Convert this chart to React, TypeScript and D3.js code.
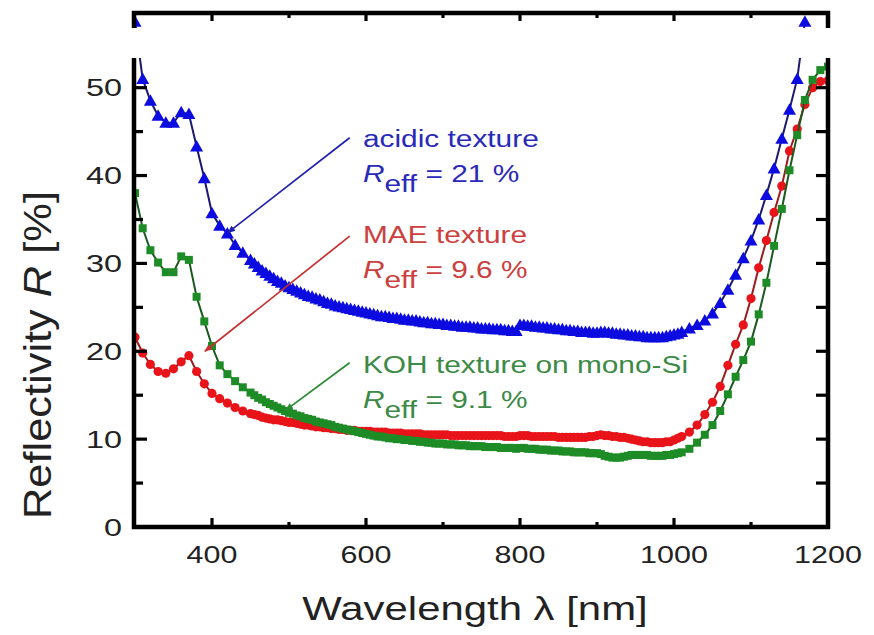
import React from "react";
import * as d3 from "d3";

// ---------- data ----------
const WL_LEFT = [300, 310, 320, 330, 340, 350, 360, 370, 380, 390, 400, 410, 420, 430, 440, 450];
const WL_MID = [
  455, 460, 465, 470, 475, 480, 485, 490, 495, 500,
  505, 510, 515, 520, 525, 530, 535, 540, 545, 550,
  555, 560, 565, 570, 575, 580, 585, 590, 595, 600,
  605, 610, 615, 620, 625, 630, 635, 640, 645, 650,
  655, 660, 665, 670, 675, 680, 685, 690, 695, 700,
  705, 710, 715, 720, 725, 730, 735, 740, 745, 750,
  755, 760, 765, 770, 775, 780, 785, 790, 795, 800,
  805, 810, 815, 820, 825, 830, 835, 840, 845, 850,
  855, 860, 865, 870, 875, 880, 885, 890, 895, 900,
  905, 910, 915, 920, 925, 930, 935, 940, 945, 950,
  955, 960, 965, 970, 975, 980, 985, 990, 995, 1000,
  1005, 1010,
];
const WL_RIGHT = [1020, 1030, 1040, 1050, 1060, 1070, 1080, 1090, 1100, 1110, 1120, 1130, 1140, 1150, 1160, 1170, 1180, 1190, 1200];

const ACIDIC_LEFT = [57.5, 51.0, 48.5, 46.8, 46.0, 46.0, 47.2, 47.0, 43.3, 39.7, 35.7, 34.3, 33.4, 32.1, 31.2, 30.4];
const ACIDIC_MID = [
  30.0, 29.6, 29.2, 28.9, 28.6, 28.3, 28.0, 27.8, 27.5, 27.3,
  27.1, 26.9, 26.7, 26.5, 26.3, 26.2, 26.0, 25.9, 25.7, 25.5,
  25.4, 25.2, 25.1, 25.0, 24.9, 24.8, 24.7, 24.6, 24.5, 24.4,
  24.3, 24.2, 24.1, 24.0, 24.0, 23.9, 23.8, 23.8, 23.7, 23.6,
  23.6, 23.5, 23.5, 23.4, 23.3, 23.3, 23.2, 23.2, 23.1, 23.1,
  23.0, 23.0, 22.9, 22.9, 22.8, 22.8, 22.8, 22.7, 22.7, 22.6,
  22.6, 22.6, 22.5, 22.5, 22.5, 22.4, 22.4, 22.3, 22.3, 23.0,
  23.0, 22.9, 22.9, 22.8, 22.8, 22.7, 22.7, 22.6, 22.6, 22.5,
  22.5, 22.4, 22.4, 22.3, 22.3, 22.2, 22.2, 22.2, 22.1, 22.1,
  22.2, 22.2, 22.1, 22.1, 22.0, 22.0, 21.9, 21.9, 21.8, 21.8,
  21.7, 21.7, 21.6, 21.6, 21.6, 21.6, 21.6, 21.7, 21.8, 21.9,
  22.0, 22.2,
];
const ACIDIC_RIGHT = [22.6, 23.0, 23.5, 24.3, 25.5, 27.0, 28.7, 30.6, 32.6, 35.0, 37.8, 40.8, 44.2, 47.5, 51.0, 57.5];

const MAE_LEFT = [21.6, 19.8, 18.5, 17.7, 17.5, 18.0, 18.8, 19.5, 17.7, 16.3, 15.2, 14.6, 14.1, 13.6, 13.2, 12.9];
const MAE_MID = [
  12.8, 12.7, 12.5, 12.4, 12.3, 12.2, 12.2, 12.1, 12.0, 11.9,
  11.9, 11.8, 11.7, 11.6, 11.6, 11.5, 11.4, 11.4, 11.3, 11.3,
  11.2, 11.2, 11.1, 11.1, 11.0, 11.0, 11.0, 10.9, 10.9, 10.9,
  10.9, 10.8, 10.8, 10.8, 10.8, 10.7, 10.7, 10.7, 10.7, 10.6,
  10.6, 10.6, 10.6, 10.6, 10.5, 10.5, 10.5, 10.5, 10.5, 10.5,
  10.5, 10.4, 10.4, 10.4, 10.4, 10.4, 10.4, 10.4, 10.4, 10.4,
  10.4, 10.4, 10.4, 10.4, 10.4, 10.3, 10.3, 10.3, 10.3, 10.4,
  10.4, 10.4, 10.3, 10.3, 10.3, 10.3, 10.3, 10.3, 10.3, 10.2,
  10.2, 10.2, 10.2, 10.2, 10.2, 10.2, 10.2, 10.3, 10.3, 10.4,
  10.5, 10.4, 10.4, 10.3, 10.3, 10.2, 10.2, 10.1, 10.0, 9.9,
  9.8, 9.7, 9.7, 9.6, 9.6, 9.6, 9.6, 9.7, 9.7, 9.9,
  10.1, 10.3,
];
const MAE_RIGHT = [10.8, 11.6, 12.8, 14.2, 16.0, 18.4, 20.8, 23.0, 26.0, 29.5, 32.6, 35.8, 38.8, 42.8, 45.3, 48.1, 50.0, 50.7, 50.8];

const KOH_LEFT = [38.0, 34.0, 31.5, 30.1, 29.0, 29.0, 30.8, 30.4, 26.2, 23.4, 20.6, 18.4, 17.4, 16.6, 15.9, 15.3];
const KOH_MID = [
  15.0, 14.7, 14.5, 14.2, 14.0, 13.8, 13.6, 13.4, 13.2, 13.0,
  12.9, 12.7, 12.6, 12.4, 12.3, 12.2, 12.0, 11.9, 11.8, 11.7,
  11.6, 11.4, 11.3, 11.2, 11.1, 11.0, 10.9, 10.8, 10.7, 10.6,
  10.5, 10.4, 10.3, 10.3, 10.2, 10.1, 10.1, 10.0, 10.0, 9.9,
  9.9, 9.8, 9.8, 9.7, 9.7, 9.6, 9.6, 9.5, 9.5, 9.5,
  9.4, 9.4, 9.4, 9.3, 9.3, 9.3, 9.2, 9.2, 9.2, 9.2,
  9.1, 9.1, 9.1, 9.1, 9.0, 9.0, 9.0, 9.0, 8.9, 9.0,
  9.0, 8.9, 8.9, 8.9, 8.8, 8.8, 8.8, 8.7, 8.7, 8.7,
  8.6, 8.6, 8.6, 8.5, 8.5, 8.5, 8.5, 8.4, 8.4, 8.4,
  8.3, 8.1, 8.0, 7.9, 7.9, 7.9, 8.0, 8.1, 8.2, 8.2,
  8.2, 8.2, 8.2, 8.1, 8.1, 8.1, 8.1, 8.2, 8.2, 8.3,
  8.4, 8.5,
];
const KOH_RIGHT = [8.9, 9.6, 10.5, 11.6, 13.2, 15.1, 17.1, 19.0, 21.1, 24.2, 27.8, 32.0, 36.2, 40.6, 44.6, 48.6, 50.9, 52.0, 52.4];

const X_TICK_LABELS = [400, 600, 800, 1000, 1200];
const X_MINOR_TICKS = [500, 700, 900, 1100];
const Y_TICK_LABELS = [0, 10, 20, 30, 40, 50];
const Y_MINOR_TICKS = [5, 15, 25, 35, 45, 55];

const SERIES_NAMES = ["acidic texture", "MAE texture", "KOH texture on mono-Si"];
const REFF_VALUES = ["21 %", "9.6 %", "9.1 %"];
// annotation anchors in data units
const ANNOT_LABEL_POS = [[596, 43.25], [596, 32.32], [596, 17.53]];
const ANNOT_ARROW_FROM = [[578.8, 44.3], [578.8, 33.1], [578.8, 18.7]];
const ANNOT_ARROW_TO = [[420.6, 33.5], [390.8, 20.0], [495.8, 13.3]];

// ---------- helpers ----------
const zip = (wl: number[], v: number[]) => v.map((r, i) => ({ wl: wl[i], r }));
const WL_ALL = [...WL_LEFT, ...WL_MID, ...WL_RIGHT];
const acidic = zip(WL_ALL, [...ACIDIC_LEFT, ...ACIDIC_MID, ...ACIDIC_RIGHT]);
const mae = zip(WL_ALL, [...MAE_LEFT, ...MAE_MID, ...MAE_RIGHT]);
const koh = zip(WL_ALL, [...KOH_LEFT, ...KOH_MID, ...KOH_RIGHT]);

const W = 874;
const H = 635;
const PL = 134, PR = 828, PT = 13, PB = 527;
const x = d3.scaleLinear().domain([300, 1200]).range([135, 828]);
const y = d3.scaleLinear().domain([0, 58.5]).range([527, 13]);

const FONT = "'Liberation Sans', Arial, sans-serif";
const SX = 1.27;

const BLUE = "#0c0ce0";
const BLUE_LINE = "#1a1a70";
const RED = "#e8141a";
const RED_LINE = "#9a1c1c";
const GREEN = "#1e8c26";
const GREEN_LINE = "#1a5a1e";
const TXT_COLORS = ["#2a2ab8", "#cc4040", "#3c8a46"];
const ARROW_COLORS = ["#2020b0", "#c43030", "#2a8a34"];

const line = d3
  .line<{ wl: number; r: number }>()
  .x((d) => x(d.wl))
  .y((d) => y(d.r));

export default function App() {
  const tri = (cx: number, cy: number) =>
    `M${cx},${cy - 6.5}L${cx + 6.5},${cy + 5}L${cx - 6.5},${cy + 5}Z`;

  return (
    <svg
      width={W}
      height={H}
      style={{ position: "absolute", left: 0, top: 0, background: "#fff" }}
      fontFamily={FONT}
    >
      <defs>
        <clipPath id="plotclip">
          <rect x={PL} y={PT} width={PR - PL} height={PB - PT} />
        </clipPath>
        {ARROW_COLORS.map((c, i) => (
          <marker
            key={i}
            id={`ah${i}`}
            viewBox="0 0 10 10"
            refX="9"
            refY="5"
            markerWidth="8"
            markerHeight="8"
            orient="auto"
            markerUnits="userSpaceOnUse"
          >
            <path d="M0,1L10,5L0,9Z" fill={c} />
          </marker>
        ))}
      </defs>

      <g clipPath="url(#plotclip)">
        {/* MAE */}
        <path d={line(mae) || ""} fill="none" stroke={RED_LINE} strokeWidth={2} />
        {mae.map((d, i) => (
          <circle key={"m" + i} cx={x(d.wl)} cy={y(d.r)} r={4.6} fill={RED} />
        ))}
        {/* KOH */}
        <path d={line(koh) || ""} fill="none" stroke={GREEN_LINE} strokeWidth={2} />
        {koh.map((d, i) => (
          <rect key={"k" + i} x={x(d.wl) - 4} y={y(d.r) - 4} width={8} height={8} fill={GREEN} />
        ))}
        {/* acidic */}
        <path d={line(acidic) || ""} fill="none" stroke={BLUE_LINE} strokeWidth={2} />
        {acidic.map((d, i) => (
          <path key={"a" + i} d={tri(x(d.wl), y(d.r))} fill={BLUE} />
        ))}
      </g>

      {/* annotation arrows */}
      {ANNOT_ARROW_FROM.map((f, i) => (
        <line
          key={"ar" + i}
          x1={x(f[0])}
          y1={y(f[1])}
          x2={x(ANNOT_ARROW_TO[i][0])}
          y2={y(ANNOT_ARROW_TO[i][1])}
          stroke={ARROW_COLORS[i]}
          strokeWidth={1.7}
          markerEnd={`url(#ah${i})`}
        />
      ))}

      {/* annotation texts */}
      {SERIES_NAMES.map((name, i) => {
        const lx = x(ANNOT_LABEL_POS[i][0]);
        const ly = y(ANNOT_LABEL_POS[i][1]);
        return (
          <g key={"t" + i} fill={TXT_COLORS[i]} fontSize={23.5}>
            <text transform={`translate(${lx},${ly}) scale(${SX},1)`}>{name}</text>
            <text transform={`translate(${lx},${ly + 35}) scale(${SX},1)`}>
              <tspan fontStyle="italic">R</tspan>
              <tspan dy={10}>eff</tspan>
              <tspan dy={-10}>{" = " + REFF_VALUES[i]}</tspan>
            </text>
          </g>
        );
      })}

      {/* frame */}
      <rect x={PL} y={PT} width={PR - PL} height={PB - PT} fill="none" stroke="#000" strokeWidth={4.5} />

      {/* ticks */}
      <g stroke="#000" strokeWidth={3.2}>
        {Y_TICK_LABELS.map((v) => (
          <line key={"yl" + v} x1={PL} x2={PL + 13} y1={y(v)} y2={y(v)} />
        ))}
        {Y_MINOR_TICKS.map((v) => (
          <line key={"ym" + v} x1={PL} x2={PL + 9} y1={y(v)} y2={y(v)} />
        ))}
        {[...Y_TICK_LABELS, ...Y_MINOR_TICKS].map((v) => (
          <line key={"yr" + v} x1={PR} x2={PR - 12} y1={y(v)} y2={y(v)} />
        ))}
        {X_TICK_LABELS.map((v) => (
          <g key={"xl" + v}>
            <line x1={x(v)} x2={x(v)} y1={PB} y2={PB - 9} />
            <line x1={x(v)} x2={x(v)} y1={PT} y2={PT + 8} />
          </g>
        ))}
        {X_MINOR_TICKS.map((v) => (
          <g key={"xm" + v}>
            <line x1={x(v)} x2={x(v)} y1={PB} y2={PB - 5} />
            <line x1={x(v)} x2={x(v)} y1={PT} y2={PT + 5} />
          </g>
        ))}
      </g>

      {/* white band artifact */}
      <rect x={100} y={28} width={774} height={30} fill="#fff" />

      {/* tick labels */}
      <g fill="#222" fontSize={24}>
        {X_TICK_LABELS.map((v) => (
          <text key={"xt" + v} transform={`translate(${x(v)},563) scale(${SX},1)`} textAnchor="middle">
            {v}
          </text>
        ))}
        {Y_TICK_LABELS.map((v) => (
          <text key={"yt" + v} transform={`translate(122,${y(v) + 8.5}) scale(1.35,1)`} textAnchor="end">
            {v}
          </text>
        ))}
      </g>

      {/* axis titles */}
      <text
        transform={`translate(475,620) scale(${SX},1)`}
        textAnchor="middle"
        fontSize={33}
        fill="#222"
      >
        Wavelength λ [nm]
      </text>
      <text
        transform="translate(51,355) rotate(-90)"
        textAnchor="middle"
        fontSize={39}
        fill="#222"
        textLength={328}
        lengthAdjust="spacingAndGlyphs"
      >
        Reflectivity <tspan fontStyle="italic">R</tspan> [%]
      </text>
    </svg>
  );
}
